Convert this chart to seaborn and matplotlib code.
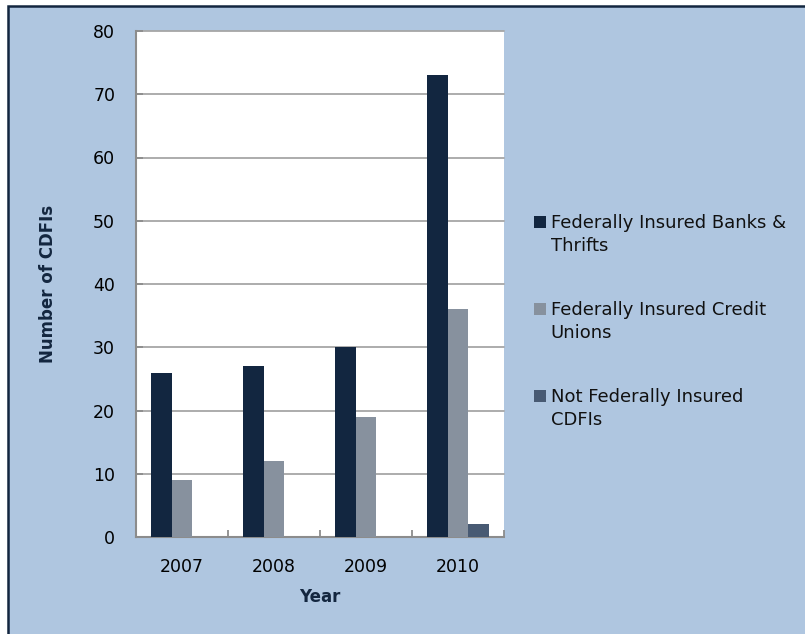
import textwrap
import matplotlib
matplotlib.use("Agg")
import matplotlib.pyplot as plt
from matplotlib.patches import Rectangle
from matplotlib.legend_handler import HandlerPatch
from matplotlib.ticker import FixedLocator
import numpy as np
import pandas as pd
import seaborn as sns

# CDFI counts by year and institution type
years = ["2007", "2008", "2009", "2010"]
series_names = [
    "Federally Insured Banks & Thrifts",
    "Federally Insured Credit Unions",
    "Not Federally Insured CDFIs",
]
banks_thrifts = [26, 27, 30, 73]
credit_unions = [9, 12, 19, 36]
not_insured = [0, 0, 0, 2]
y_ticks = [0, 10, 20, 30, 40, 50, 60, 70, 80]

colors = ["#122640", "#87919E", "#485A73"]
navy = "#13263F"
panel_blue = "#AFC6E0"

df = pd.DataFrame({
    "Year": years * 3,
    "Type": [s for s in series_names for _ in years],
    "Count": banks_thrifts + credit_unions + not_insured,
})

sns.set_theme(style="white")
plt.rcParams["font.family"] = ["DejaVu Sans"]

fig = plt.figure(figsize=(8.05, 6.34), dpi=100, facecolor="white")

# light-blue chart frame with a dark outline
frame = Rectangle((8 / 805, -0.2), 1.2, 1.2 - 6 / 634,
                  transform=fig.transFigure, facecolor=panel_blue,
                  edgecolor=navy, linewidth=1.8, zorder=-10)
fig.add_artist(frame)

ax = fig.add_axes([136 / 805, 1 - 537 / 634, (504 - 136) / 805, (537 - 31) / 634])
ax.set_facecolor("white")

sns.barplot(data=df, x="Year", y="Count", hue="Type", hue_order=series_names,
            order=years, palette=colors, width=0.67, saturation=1,
            errorbar=None, ax=ax, legend=True, zorder=3, linewidth=0)

ax.set_ylim(0, 80)
ax.set_xlim(-0.5, len(years) - 0.5)
ax.set_yticks(y_ticks)
ax.yaxis.grid(True, color="#A6A6A6", linewidth=1.3, zorder=0)
ax.set_axisbelow(True)
for gl in ax.get_ygridlines():
    gl.set_clip_on(False)

for side in ["top", "right"]:
    ax.spines[side].set_visible(False)
for side in ["left", "bottom"]:
    ax.spines[side].set_color("#8C8C8C")
    ax.spines[side].set_linewidth(1.5)

ax.tick_params(axis="y", direction="in", length=5, width=1.3, color="#8C8C8C",
               labelsize=12.5, labelcolor="black", pad=15, left=True)
ax.tick_params(axis="x", which="major", length=0, labelsize=12.5,
               labelcolor="black", pad=15)
ax.xaxis.set_minor_locator(FixedLocator(np.arange(0.5, len(years), 1.0)))
ax.tick_params(axis="x", which="minor", direction="in", length=5, width=1.3,
               color="#8C8C8C", bottom=True)

ax.set_xlabel("Year", fontsize=12, fontweight="bold", color=navy, labelpad=9)
ax.set_ylabel("Number of CDFIs", fontsize=12, fontweight="bold", color=navy,
              labelpad=26)


class FirstLineSquare(HandlerPatch):
    """Square legend key raised to sit beside the first line of a wrapped label."""

    def __init__(self, lift, **kw):
        super().__init__(**kw)
        self.lift = lift

    def create_artists(self, legend, orig_handle, xdescent, ydescent,
                       width, height, fontsize, trans):
        p = Rectangle((-xdescent, -ydescent + self.lift * fontsize), width, height,
                      facecolor=orig_handle.get_facecolor(), edgecolor="none",
                      transform=trans)
        return [p]


old = ax.get_legend()
handles = list(old.legend_handles)
old.remove()
labels = [textwrap.fill(s, 25) for s in series_names]
handler = FirstLineSquare(lift=0.73)
leg = ax.legend(handles, labels, loc="upper left",
                bbox_to_anchor=(534 / 805, 1 - 214 / 634),
                bbox_transform=fig.transFigure, frameon=False,
                fontsize=13, handlelength=0.67, handleheight=0.67,
                handletextpad=0.25, labelspacing=2.55, borderpad=0,
                borderaxespad=0, handler_map={h: handler for h in handles})
for t in leg.get_texts():
    t.set_color("#111111")
    t.set_linespacing(1.35)

fig.savefig("out.png", dpi=100, facecolor="white")
